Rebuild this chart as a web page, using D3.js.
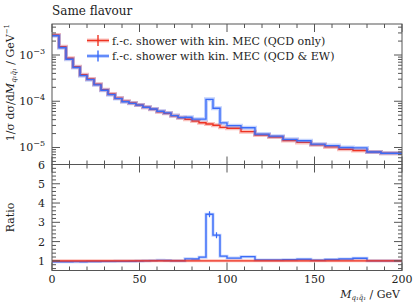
<!DOCTYPE html>
<html>
<head>
<meta charset="utf-8">
<script src="https://cdn.jsdelivr.net/npm/d3@7"></script>
<style>
  body { margin: 0; background: #fff; }
  svg text { font-family: "DejaVu Serif", serif; fill: #222; }
</style>
</head>
<body>
<svg id="chart" width="415" height="305"></svg>
<script>
// bin edges in GeV: 4 GeV up to 100, 8 GeV afterwards, last bin 188-200
const binEdges = [0, 4, 8, 12, 16, 20, 24, 28, 32, 36, 40, 44, 48, 52, 56, 60, 64, 68, 72, 76, 80, 84, 88, 92, 96, 100,
  108, 116, 124, 132, 140, 148, 156, 164, 172, 180, 188, 200];

// f.-c. shower with kin. MEC (QCD only)
const qcdOnly = [2.72e-3, 1.51e-3, 8.48e-4, 5.58e-4, 3.75e-4, 3.03e-4, 2.33e-4, 1.78e-4, 1.43e-4, 1.17e-4, 1.00e-4,
  9.16e-5, 8.30e-5, 7.40e-5, 6.70e-5, 5.94e-5, 5.48e-5, 4.87e-5, 4.41e-5, 4.07e-5, 3.74e-5, 3.44e-5, 3.22e-5, 3.02e-5, 2.73e-5,
  2.60e-5, 2.20e-5, 1.86e-5, 1.69e-5, 1.42e-5, 1.29e-5, 1.14e-5, 1.03e-5, 9.14e-6, 8.61e-6, 8.00e-6, 7.50e-6];

// f.-c. shower with kin. MEC (QCD & EW)
const qcdEw = [2.60e-3, 1.44e-3, 8.10e-4, 5.35e-4, 3.58e-4, 2.93e-4, 2.26e-4, 1.73e-4, 1.39e-4, 1.14e-4, 9.75e-5,
  9.00e-5, 8.25e-5, 7.40e-5, 6.80e-5, 6.10e-5, 5.60e-5, 4.90e-5, 4.45e-5, 4.50e-5, 4.10e-5, 4.10e-5, 1.10e-4, 7.05e-5, 3.40e-5,
  2.97e-5, 2.68e-5, 1.95e-5, 1.76e-5, 1.50e-5, 1.40e-5, 1.18e-5, 1.10e-5, 1.00e-5, 9.80e-6, 8.00e-6, 7.50e-6];

const xTicks = [0, 50, 100, 150, 200];
const mainTicks = [1e-3, 1e-4, 1e-5];
const ratioTicks = [1, 2, 3, 4, 5, 6];
const legendLabels = ["f.-c. shower with kin. MEC (QCD only)", "f.-c. shower with kin. MEC (QCD & EW)"];

const red = "#ee3322", blue = "#3a6cf8";
const frame = "#555";

const svg = d3.select("#chart");
const pLeft = 52, pRight = 402, pTop = 24, pMid = 164.5, pBottom = 270.5;

const x = d3.scaleLinear().domain([0, 200]).range([pLeft, pRight]);
const y = d3.scaleLog().domain([Math.pow(10, -5.3676), Math.pow(10, -2.3297)]).range([pMid, pTop]);
const yr = d3.scaleLinear().domain([0.5, 6]).range([pBottom, pMid]);

const series = [
  { name: legendLabels[0], vals: qcdOnly, color: red },
  { name: legendLabels[1], vals: qcdEw, color: blue }
];

function stepPoints(vals, yscale) {
  const pts = [];
  vals.forEach((v, i) => {
    pts.push([x(binEdges[i]), yscale(v)]);
    pts.push([x(binEdges[i + 1]), yscale(v)]);
  });
  return pts;
}
const line = d3.line();

svg.append("clipPath").attr("id", "clipMain").append("rect")
  .attr("x", pLeft).attr("y", pTop).attr("width", pRight - pLeft).attr("height", pMid - pTop);
svg.append("clipPath").attr("id", "clipRatio").append("rect")
  .attr("x", pLeft).attr("y", pMid).attr("width", pRight - pLeft).attr("height", pBottom - pMid);

// main panel
const gMain = svg.append("g").attr("clip-path", "url(#clipMain)");
series.forEach(s => {
  const pts = stepPoints(s.vals, y);
  gMain.append("path").attr("d", line(pts)).attr("fill", "none")
    .attr("stroke", s.color).attr("stroke-opacity", 0.3).attr("stroke-width", 4);
  gMain.append("path").attr("d", line(pts)).attr("fill", "none")
    .attr("stroke", s.color).attr("stroke-width", 1.4);
});

// ratio panel
const gRatio = svg.append("g").attr("clip-path", "url(#clipRatio)");
const ratios = qcdEw.map((v, i) => v / qcdOnly[i]);
const ones = qcdOnly.map(() => 1);
[[ratios, blue], [ones, red]].forEach(([vals, col]) => {
  const pts = stepPoints(vals, yr);
  gRatio.append("path").attr("d", line(pts)).attr("fill", "none")
    .attr("stroke", col).attr("stroke-opacity", 0.3).attr("stroke-width", 3);
  gRatio.append("path").attr("d", line(pts)).attr("fill", "none")
    .attr("stroke", col).attr("stroke-width", 1.4);
});
// small error bars on the peak bins
ratios.forEach((r, i) => {
  if (r < 2) return;
  const cx = x((binEdges[i] + binEdges[i + 1]) / 2);
  gRatio.append("line").attr("x1", cx).attr("x2", cx)
    .attr("y1", yr(r) - 3).attr("y2", yr(r) + 3).attr("stroke", blue).attr("stroke-width", 1.2);
});

// frames
[[pTop, pMid], [pMid, pBottom]].forEach(([t, b]) => {
  svg.append("rect").attr("x", pLeft).attr("y", t).attr("width", pRight - pLeft).attr("height", b - t)
    .attr("fill", "none").attr("stroke", frame).attr("stroke-width", 1);
});

// x ticks, inward, on both panels
const tg = svg.append("g").attr("stroke", frame).attr("stroke-width", 1);
d3.range(0, 201, 10).forEach(v => {
  const len = v % 50 === 0 ? 8 : 4;
  [pTop, pMid, pBottom].forEach(yy => {
    if (yy !== pTop) tg.append("line").attr("x1", x(v)).attr("x2", x(v)).attr("y1", yy).attr("y2", yy - len);
    if (yy !== pBottom) tg.append("line").attr("x1", x(v)).attr("x2", x(v)).attr("y1", yy).attr("y2", yy + len);
  });
});

// main y ticks (log)
for (let e = -6; e <= -2; e++) {
  for (let m = 1; m <= 9; m++) {
    const v = m * Math.pow(10, e);
    if (v < y.domain()[0] || v > y.domain()[1]) continue;
    const len = m === 1 ? 8 : 4;
    tg.append("line").attr("x1", pLeft).attr("x2", pLeft + len).attr("y1", y(v)).attr("y2", y(v));
    tg.append("line").attr("x1", pRight).attr("x2", pRight - len).attr("y1", y(v)).attr("y2", y(v));
  }
}
// ratio y ticks
d3.range(0.6, 6.01, 0.2).forEach(v => {
  const major = Math.abs(v - Math.round(v)) < 1e-6;
  const len = major ? 8 : 4;
  tg.append("line").attr("x1", pLeft).attr("x2", pLeft + len).attr("y1", yr(v)).attr("y2", yr(v));
  tg.append("line").attr("x1", pRight).attr("x2", pRight - len).attr("y1", yr(v)).attr("y2", yr(v));
});

// labels
const fs = 11;
xTicks.forEach(v => {
  svg.append("text").attr("x", x(v)).attr("y", 283).attr("text-anchor", "middle")
    .attr("font-size", fs).text(v);
});
mainTicks.forEach(v => {
  const t = svg.append("text").attr("x", 45).attr("y", y(v) + 4).attr("text-anchor", "end").attr("font-size", fs);
  t.append("tspan").text("10");
  t.append("tspan").attr("dy", -5).attr("font-size", 8).text("\u2212" + Math.round(-Math.log10(v)));
});
ratioTicks.forEach(v => {
  svg.append("text").attr("x", 45).attr("y", yr(v) + 4).attr("text-anchor", "end").attr("font-size", fs).text(v);
});

svg.append("text").attr("x", pLeft).attr("y", 15).attr("font-size", 12).text("Same flavour");

// y title main
const yt = svg.append("text").attr("transform", "translate(14,24) rotate(-90)")
  .attr("text-anchor", "end").attr("font-size", fs);
yt.append("tspan").text("1/\u03C3 d\u03C3/d");
yt.append("tspan").attr("font-style", "italic").text("M");
yt.append("tspan").attr("font-size", 7).attr("dy", 2).attr("font-style", "italic").text("q\u2081q\u0304\u2081");
yt.append("tspan").attr("dy", -2).text(" / GeV");
yt.append("tspan").attr("font-size", 7).attr("dy", -5).text("\u22121");

svg.append("text").attr("transform", `translate(14,${(pMid + pBottom) / 2}) rotate(-90)`)
  .attr("text-anchor", "middle").attr("font-size", fs).text("Ratio");

// x title
const xt = svg.append("text").attr("x", 400).attr("y", 298).attr("text-anchor", "end").attr("font-size", fs);
xt.append("tspan").attr("font-style", "italic").text("M");
xt.append("tspan").attr("font-size", 7).attr("dy", 2).attr("font-style", "italic").text("q\u2081q\u0304\u2081");
xt.append("tspan").attr("dy", -2).text(" / GeV");

// legend
series.forEach((s, i) => {
  const ly = 40.5 + i * 15.5;
  const lg = svg.append("g");
  lg.append("line").attr("x1", 87).attr("x2", 109).attr("y1", ly).attr("y2", ly)
    .attr("stroke", s.color).attr("stroke-opacity", 0.3).attr("stroke-width", 4);
  lg.append("line").attr("x1", 87).attr("x2", 109).attr("y1", ly).attr("y2", ly)
    .attr("stroke", s.color).attr("stroke-width", 1.4);
  lg.append("line").attr("x1", 98).attr("x2", 98).attr("y1", ly - 5.5).attr("y2", ly + 5.5)
    .attr("stroke", s.color).attr("stroke-width", 1.4);
  lg.append("text").attr("x", 112).attr("y", ly + 4).attr("font-size", fs).text(s.name);
});
</script>
</body>
</html>
